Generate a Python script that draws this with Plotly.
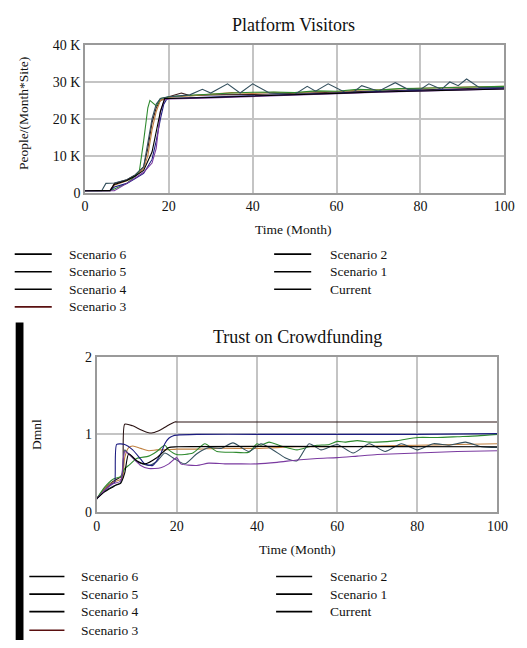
import plotly.graph_objects as go

W, H = 527, 648
FONT = "Liberation Serif"

# ---------------- Data: Platform Visitors (thousand people/(Month*Site)) ----------------
pv_t_current = [0, 5, 6, 7, 10, 12, 14, 16, 17, 18, 19, 20, 30, 40, 50, 60, 70, 80, 90, 100]
pv_v_current = [0.5, 0.5, 0.6, 2.2, 3.3, 4.5, 6, 11, 17, 22, 25.5, 25.5, 25.8, 26.1, 26.5, 26.9, 27.3, 27.6, 27.9, 28.1]

pv_t_s1 = [0, 6, 7, 10, 12, 14, 16, 17, 18, 18.8, 19.5, 20, 30, 40, 50, 60, 70, 80, 90, 100]
pv_v_s1 = [0.5, 0.5, 1.5, 2.5, 3.8, 5.2, 9, 14, 20, 24, 25.3, 25.5, 25.9, 26.2, 26.6, 27, 27.4, 27.7, 28, 28.3]

pv_t_s2 = [0, 4, 5, 6, 7, 10, 12, 14, 15, 16, 17, 18, 20, 22, 25, 28, 30, 34, 37, 40, 44, 47, 50, 53, 55,
           58, 62, 64, 66, 70, 74, 77, 80, 82, 85, 87, 89, 91, 94, 100]
pv_v_s2 = [0.5, 0.5, 2.5, 2.5, 2.6, 3.5, 4.8, 7, 13, 20, 24, 25.5, 26, 26.2, 26.5, 28, 27, 29.5, 27, 29.5, 27,
           26.8, 26.6, 28.8, 27.5, 29.5, 27.2, 27.2, 29, 27.5, 29.8, 28, 28, 29.5, 28, 30, 29, 30.8, 28.5, 28.5]

pv_t_s3 = [0, 6, 7, 10, 12, 14, 15, 16, 17, 18, 20, 23, 25, 30, 40, 50, 60, 70, 80, 90, 100]
pv_v_s3 = [0.5, 0.5, 2.5, 3.5, 4.8, 7, 12, 19, 23, 25, 26, 27, 26.3, 26.5, 26.6, 26.9, 27.2, 27.6, 27.9, 28.2, 28.5]

pv_t_s4 = [0, 6, 7, 10, 12, 14, 15, 16, 17, 18, 20, 25, 30, 35, 40, 45, 50, 55, 60, 65, 70, 75, 80, 90, 100]
pv_v_s4 = [0.5, 0.5, 2, 3.2, 4.5, 6.5, 10, 17, 22, 25, 25.8, 26.2, 26.8, 27.1, 26.9, 27.2, 27, 27.4, 27.3, 27.8,
           27.9, 28.0, 28.3, 28.6, 28.8]

pv_t_s5 = [0, 6, 7, 10, 12, 13, 14, 15, 15.5, 16.5, 17, 18, 20, 25, 30, 35, 40, 45, 50, 55, 60, 65, 70, 75, 80,
           85, 90, 95, 100]
pv_v_s5 = [0.5, 0.5, 1, 2.5, 4.5, 6, 14, 23, 25, 24, 23.5, 25.5, 26, 26.4, 26.8, 27, 27.2, 27.3, 27.1, 27.6,
           27.5, 28, 27.8, 28.2, 28.3, 28.5, 28.6, 28.7, 28.8]

pv_t_s6 = [0, 7, 10, 12, 14, 16, 17, 17.5, 18, 19, 20, 30, 40, 50, 60, 70, 80, 90, 100]
pv_v_s6 = [0.5, 0.5, 2.5, 4, 5.5, 8, 12, 17, 22, 25.2, 25.4, 25.7, 26, 26.4, 26.8, 27.2, 27.5, 27.9, 28.1]

pv_ticks = [0, 10, 20, 30, 40]
pv_ticklabels = ["0", "10 K", "20 K", "30 K", "40 K"]

# ---------------- Data: Trust on Crowdfunding (Dmnl) ----------------
tc_t_s3 = [0, 2, 4, 6, 6.5, 7, 9, 11, 13, 14, 16, 18, 19.5, 20, 100]
tc_v_s3 = [0.17, 0.3, 0.39, 0.45, 0.47, 1.13, 1.11, 1.06, 1.02, 1.02, 1.06, 1.12, 1.16, 1.16, 1.16]

tc_t_s1 = [0, 2, 4, 4.5, 5, 7, 9, 11, 12, 14, 16, 17, 18, 19, 20, 25, 40, 60, 80, 100]
tc_v_s1 = [0.17, 0.28, 0.37, 0.38, 0.87, 0.87, 0.8, 0.68, 0.62, 0.6, 0.75, 0.88, 0.95, 0.98, 0.99, 1.0, 1.0, 1.0,
           1.0, 1.01]

tc_t_s4 = [0, 2, 4, 6, 6.5, 7, 8, 9, 11, 13, 15, 17, 20, 25, 30, 40, 50, 60, 70, 80, 90, 100]
tc_v_s4 = [0.17, 0.3, 0.38, 0.42, 0.44, 0.7, 0.83, 0.85, 0.82, 0.79, 0.8, 0.8, 0.81, 0.81, 0.82, 0.82, 0.84,
           0.84, 0.85, 0.86, 0.87, 0.88]

tc_t_s5 = [0, 2, 4, 6, 7, 8, 10, 13, 15, 17, 18, 20, 24, 27, 30, 34, 38, 40, 41, 43, 46, 50, 53, 55, 58, 60,
           62, 65, 68, 70, 75, 80, 85, 90, 95, 100]
tc_v_s5 = [0.17, 0.32, 0.42, 0.46, 0.56, 0.6, 0.69, 0.72, 0.78, 0.86, 0.8, 0.74, 0.76, 0.88, 0.78, 0.77, 0.77,
           0.88, 0.86, 0.9, 0.85, 0.8, 0.84, 0.86, 0.87, 0.91, 0.9, 0.92, 0.9, 0.9, 0.92, 0.96, 0.96, 0.97, 0.98,
           1.0]

tc_t_s2 = [0, 2, 4, 6, 7, 8, 10, 13, 15, 17, 19, 22, 25, 28, 31, 34, 38, 41, 44, 47, 50, 53, 56, 60, 64, 68,
           72, 76, 80, 84, 88, 92, 96, 100]
tc_v_s2 = [0.17, 0.27, 0.33, 0.38, 0.8, 0.75, 0.65, 0.6, 0.65, 0.76, 0.7, 0.62, 0.75, 0.83, 0.82, 0.89, 0.78,
           0.88, 0.8, 0.7, 0.66, 0.88, 0.8, 0.87, 0.76, 0.88, 0.78, 0.88, 0.8, 0.88, 0.86, 0.9, 0.84, 0.83]

tc_t_s6 = [0, 2, 4, 6, 7, 9, 11, 13, 16, 18, 20, 21, 25, 28, 32, 35, 40, 45, 50, 55, 60, 65, 70, 80, 90, 100]
tc_v_s6 = [0.17, 0.28, 0.36, 0.4, 0.78, 0.7, 0.6, 0.56, 0.57, 0.62, 0.7, 0.62, 0.6, 0.63, 0.62, 0.62, 0.62,
           0.64, 0.67, 0.69, 0.7, 0.72, 0.74, 0.76, 0.78, 0.79]

tc_t_current = [0, 2, 4, 5, 6, 7, 8, 10, 12, 15, 18, 20, 100]
tc_v_current = [0.17, 0.26, 0.32, 0.35, 0.37, 0.5, 0.75, 0.66, 0.62, 0.7, 0.83, 0.84, 0.84]

tc_ticks = [0, 1, 2]
x_ticks = [0, 20, 40, 60, 80, 100]

# ---------------- Styles ----------------
colors = {
    "Scenario 6": "#7a3aa0",
    "Scenario 5": "#2e8a2e",
    "Scenario 4": "#c08040",
    "Scenario 3": "#3a1a1a",
    "Scenario 2": "#34505e",
    "Scenario 1": "#1c1c80",
    "Current": "#000000",
}
tc_colors = dict(colors)
tc_colors["Scenario 3"] = "#2a1212"

pv_data = {
    "Scenario 6": (pv_t_s6, pv_v_s6),
    "Scenario 5": (pv_t_s5, pv_v_s5),
    "Scenario 4": (pv_t_s4, pv_v_s4),
    "Scenario 3": (pv_t_s3, pv_v_s3),
    "Scenario 2": (pv_t_s2, pv_v_s2),
    "Scenario 1": (pv_t_s1, pv_v_s1),
    "Current": (pv_t_current, pv_v_current),
}
tc_data = {
    "Scenario 6": (tc_t_s6, tc_v_s6),
    "Scenario 5": (tc_t_s5, tc_v_s5),
    "Scenario 4": (tc_t_s4, tc_v_s4),
    "Scenario 3": (tc_t_s3, tc_v_s3),
    "Scenario 2": (tc_t_s2, tc_v_s2),
    "Scenario 1": (tc_t_s1, tc_v_s1),
    "Current": (tc_t_current, tc_v_current),
}

fig = go.Figure()
draw_order = ["Scenario 3", "Scenario 4", "Scenario 5", "Scenario 2", "Scenario 1", "Scenario 6", "Current"]
for name in draw_order:
    t, v = pv_data[name]
    fig.add_trace(go.Scatter(x=t, y=v, mode="lines", name=name, showlegend=False,
                             line=dict(color=colors[name], width=1.1), xaxis="x", yaxis="y"))
for name in draw_order:
    t, v = tc_data[name]
    fig.add_trace(go.Scatter(x=t, y=v, mode="lines", name=name, showlegend=False,
                             line=dict(color=tc_colors[name], width=1.1, shape="spline", smoothing=0.6),
                             xaxis="x2", yaxis="y2"))


def px_x(p):
    return p / W


def px_y(p):
    return 1 - p / H


GRID = "#c4c4c4"
LINE = "#9a9a9a"
tickfont = dict(family=FONT, size=14, color="#111")
axis_common = dict(showgrid=True, gridcolor=GRID, gridwidth=1.6, showline=True, linecolor=LINE,
                   linewidth=1.5, mirror=True, zeroline=False, ticks="", tickfont=tickfont)

fig.update_layout(
    width=W, height=H, margin=dict(l=0, r=0, t=0, b=0),
    paper_bgcolor="white", plot_bgcolor="white", showlegend=False,
    xaxis=dict(domain=[px_x(84), px_x(514)], range=[0, 100], tickvals=x_ticks, anchor="y", **axis_common),
    yaxis=dict(domain=[px_y(190), px_y(39)], range=[0, 40], tickvals=pv_ticks, ticktext=pv_ticklabels,
               anchor="x", **axis_common),
    xaxis2=dict(domain=[px_x(96), px_x(507)], range=[0, 100], tickvals=x_ticks, anchor="y2", **axis_common),
    yaxis2=dict(domain=[px_y(517), px_y(358)], range=[0, 2], tickvals=tc_ticks, anchor="x2", **axis_common),
)

ann = []
shapes = []


def text(x, y, s, size=13, angle=0, xanchor="center"):
    ann.append(dict(x=px_x(x), y=px_y(y), xref="paper", yref="paper", text=s, showarrow=False,
                    xanchor=xanchor, yanchor="middle", textangle=angle,
                    font=dict(family=FONT, size=size, color="#111")))


# titles
text(298, 18, "Platform Visitors", size=18)
text(302, 338, "Trust on Crowdfunding", size=18)
text(297, 228, "Time (Month)", size=13.5)
text(301, 555, "Time (Month)", size=13.5)
text(21, 109, "People/(Month*Site)", size=13.5, angle=-90)
text(35, 438, "Dmnl", size=13.5, angle=-90)

# black side bar
shapes.append(dict(type="rect", xref="paper", yref="paper", x0=px_x(13), x1=px_x(21), y0=0, y1=px_y(323),
                   fillcolor="black", line=dict(width=0)))


def legend(col_defs, rows_y):
    for (lx0, lx1, tx, names) in col_defs:
        for i, name in enumerate(names):
            y = rows_y[i]
            c = "#5a1010" if name == "Scenario 3" else "#000"
            shapes.append(dict(type="line", xref="paper", yref="paper", x0=px_x(lx0), x1=px_x(lx1),
                               y0=px_y(y), y1=px_y(y), line=dict(color=c, width=1.6)))
            text(tx, y, name, size=13.5, xanchor="left")


legend([(12, 50, 66, ["Scenario 6", "Scenario 5", "Scenario 4", "Scenario 3"]),
        (278, 316, 333, ["Scenario 2", "Scenario 1", "Current"])], [253, 271, 289, 307])
legend([(27, 63, 78, ["Scenario 6", "Scenario 5", "Scenario 4", "Scenario 3"]),
        (280, 317, 333, ["Scenario 2", "Scenario 1", "Current"])], [583, 601, 619, 638])

fig.update_layout(annotations=ann, shapes=shapes)
fig.write_html("out.html", config={"displayModeBar": False},
               post_script="document.body.style.margin='0px';document.body.style.padding='0px';")
